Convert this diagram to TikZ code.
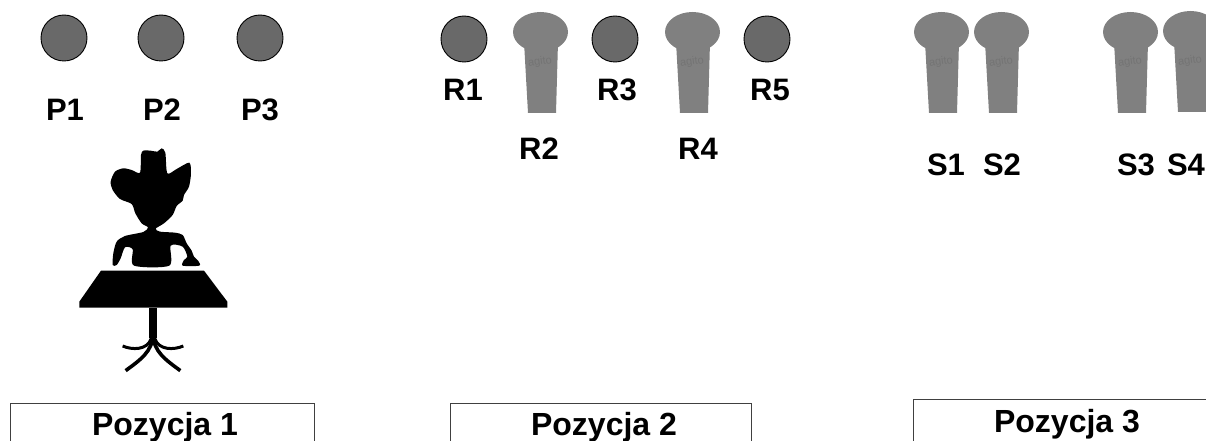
\documentclass[tikz,border=0pt]{standalone}
\usepackage{fontspec}
\setmainfont{Liberation Sans}
\tikzset{
  x=1pt,y=-1pt,
  disc/.style={circle,draw=black,line width=0.9pt,fill=discgray,minimum size=46pt,inner sep=0pt},
  lab/.style={font=\fontsize{31}{31}\bfseries\selectfont,inner sep=0pt,anchor=base},
  posbox/.style={draw=boxgray,line width=1pt,fill=white},
  poslab/.style={font=\fontsize{32}{32}\bfseries\selectfont,inner sep=0pt,anchor=base},
  wm/.style={font=\fontsize{11}{11}\selectfont,text=wmgray,rotate=8,inner sep=0pt},
  pics/paddle/.style={code={
    \fill[paddlegray] (-0.5,0) ellipse [x radius=27.5pt,y radius=20pt];
    \fill[paddlegray] (-17,10) -- (17,10) -- (15,81) -- (-13,81) -- cycle;
    \node[wm] (-wm) at (-1,30) {agito};
  }}
}
\definecolor{discgray}{HTML}{696969}
\definecolor{paddlegray}{HTML}{808080}
\definecolor{wmgray}{HTML}{747474}
\definecolor{boxgray}{HTML}{404040}
\begin{document}
\begin{tikzpicture}
\useasboundingbox (0,0) rectangle (1206,441);
\clip (0,0) rectangle (1206,441);
% discs
\node[disc] (p1) at (64,38) {};
\node[disc] (p2) at (161,38) {};
\node[disc] (p3) at (260,38) {};
\node[disc] (r1) at (464,39) {};
\node[disc] (r3) at (615,39) {};
\node[disc] (r5) at (767,39) {};
% paddles
\pic (r2) at (541,32) {paddle};
\pic (r4) at (693,32) {paddle};
\pic (s1) at (942,32) {paddle};
\pic (s2) at (1002,32) {paddle};
\pic (s3) at (1131,32) {paddle};
\pic (s4) at (1191,31) {paddle};
% labels
\node[lab] (lp1) at (65,121) {P1};
\node[lab] (lp2) at (162,121) {P2};
\node[lab] (lp3) at (260,121) {P3};
\node[lab] (lr1) at (463,101) {R1};
\node[lab] (lr3) at (617,101) {R3};
\node[lab] (lr5) at (770,101) {R5};
\node[lab] (lr2) at (539,159) {R2};
\node[lab] (lr4) at (698,159) {R4};
\node[lab] (ls1) at (946,175) {S1};
\node[lab] (ls2) at (1002,175) {S2};
\node[lab] (ls3) at (1136,175) {S3};
\node[lab] (ls4) at (1186,175) {S4};
% position boxes
\draw[posbox] (10,403) rectangle (314,460);
\draw[posbox] (450,403) rectangle (751,460);
\draw[posbox] (913,399) rectangle (1230,460);
\node[poslab] (b1) at (165,435) {Pozycja 1};
\node[poslab] (b2) at (604,435) {Pozycja 2};
\node[poslab] (b3) at (1067,432) {Pozycja 3};
% silhouette
\begin{scope}[shift={(60,130)},x=0.3333pt,y=-0.3333pt]
\fill[black] plot[smooth cycle,tension=0.45] coordinates {
 (243,75)(250,62)(272,62)(292,65)(305,55)(316,68)(322,130)(350,117)(388,98)(393,130)
 (387,170)(372,195)(368,212)(350,228)(338,255)(312,280)(287,296)(300,305)(345,308)(368,315)
 (380,340)(395,362)(402,380)(415,393)(418,407)(368,407)(372,390)(382,380)(368,350)
 (332,347)(328,407)(222,407)(218,358)(195,352)(182,385)(170,405)(158,405)(160,370)
 (170,335)(195,318)(250,306)(264,292)(245,280)(226,250)(215,222)(180,207)(158,180)(152,155)
 (165,125)(190,115)(215,120)(240,128)};
\fill[black] (123,422) -- (432,422) -- (502,515) -- (502,533) -- (58,533) -- (58,515) -- cycle;
\fill[black] (266,533) rectangle (292,625);
\draw[black,line width=3.6pt] (279,610) .. controls (279,665) and (240,690) .. (197,722);
\draw[black,line width=3.6pt] (279,610) .. controls (279,665) and (318,690) .. (361,722);
\draw[black,line width=3pt] (188,648) .. controls (215,660) and (262,662) .. (274,625);
\draw[black,line width=3pt] (370,648) .. controls (343,660) and (296,662) .. (284,625);
\end{scope}
\end{tikzpicture}
\end{document}
